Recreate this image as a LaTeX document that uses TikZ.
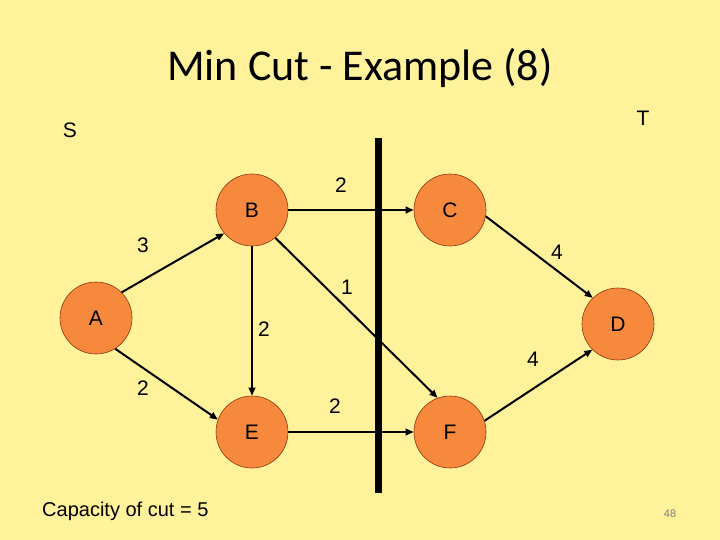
\documentclass[tikz,border=0pt]{standalone}
\usepackage{fontspec}
\setmainfont{Liberation Sans}
\newfontfamily\titlefont{Carlito}
\usetikzlibrary{arrows.meta}
\definecolor{slideyellow}{RGB}{255,242,155}
\definecolor{nodeorange}{RGB}{247,137,60}
\definecolor{nodeedge}{RGB}{140,55,20}

\begin{document}
\begin{tikzpicture}[x=1pt,y=-1pt,
    vertex/.style={circle, draw=nodeedge, line width=.6pt, fill=nodeorange, minimum size=72pt, inner sep=0pt, font=\fontsize{21}{24}\selectfont},
    lbl/.style={font=\fontsize{21}{24}\selectfont},
    flow/.style={-{Triangle[length=8pt,width=6.5pt]}, line width=2pt, black}]
        %background
        \fill[slideyellow] (0,0) rectangle (720,540);
        \useasboundingbox (0,0) rectangle (720,540);
        % title
        \node[anchor=base, font=\titlefont\fontsize{44}{48}\selectfont] (title) at (360,81) {Min Cut - Example (8)};
        \node[lbl] (s) at (70,130) {S};
        \node[lbl] (t) at (643,118) {T};
        % vertices
        \node[vertex] (A) at (96,318) {A};
        \node[vertex] (B) at (252,210) {B};
        \node[vertex] (C) at (450,210) {C};
        \node[vertex] (D) at (618,324) {D};
        \node[vertex] (E) at (252,432) {E};
        \node[vertex] (F) at (450,432) {F};
        % edges
        \draw[flow] (A.45) -- (B.220);
        \draw[flow] (A.-58) -- (E.160);
        \draw[flow] (B.east) -- (C.west);
        \draw[flow] (B.south) -- (E.north);
        \draw[flow] (B.-50) -- (F.110);
        \draw[flow] (C.-10) -- (D.134);
        \draw[flow] (E.east) -- (F.west);
        \draw[flow] (F.18) -- (D.-135);
        % capacities
        \node[lbl] (cab) at (143,245) {3};
        \node[lbl] (cae) at (143,388) {2};
        \node[lbl] (cbc) at (341,185) {2};
        \node[lbl] (cbe) at (264,329) {2};
        \node[lbl] (cbf) at (347,287) {1};
        \node[lbl] (ccd) at (557,252) {4};
        \node[lbl] (cef) at (335,406) {2};
        \node[lbl] (cfd) at (533,359) {4};
        % the cut
        \coordinate (cuttop) at (378,138);
        \coordinate (cutbot) at (378,493);
        \draw[line width=7pt] (cuttop) -- (cutbot);
        % footer
        \node[anchor=base west, font=\fontsize{20}{22}\selectfont, inner sep=0pt] (capacity) at (42,516) {Capacity of cut = 5};
        \node[font=\fontsize{11}{12}\selectfont, text=gray] (pagenum) at (670,514) {48};
\end{tikzpicture}
\end{document}
